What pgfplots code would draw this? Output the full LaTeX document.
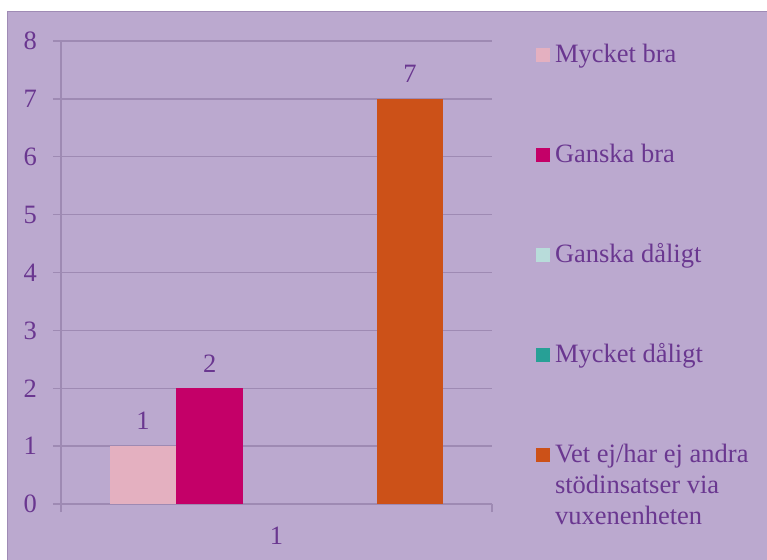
\documentclass[border=0pt]{standalone}
\usepackage{pgfplots}
\pgfplotsset{compat=1.18}
\usepackage{fontspec}
\setmainfont{Liberation Serif}
\definecolor{bg}{HTML}{BBA9CF}
\definecolor{bord}{HTML}{9F8BB5}
\definecolor{gridc}{HTML}{9E8AB3}
\definecolor{txt}{HTML}{6A3790}
\definecolor{c1}{HTML}{E4B0C0}
\definecolor{c2}{HTML}{C40068}
\definecolor{c3}{HTML}{B8DCDA}
\definecolor{c4}{HTML}{27A096}
\definecolor{c5}{HTML}{CC5118}
\begin{document}
\fontsize{26.5bp}{31bp}\selectfont
\begin{tikzpicture}
\useasboundingbox (0,0) rectangle (767bp,560bp);
\fill[white] (0,0) rectangle (767bp,560bp);
\fill[bg] (7bp,0) rectangle (767bp,549bp);
\draw[bord, line width=1bp] (7.5bp,0) -- (7.5bp,548.5bp) -- (767bp,548.5bp);
\begin{axis}[
  at={(61bp,56bp)}, anchor=south west,
  scale only axis, width=431bp, height=463bp,
  xmin=-3.231, xmax=3.231, ymin=0, ymax=8,
  ybar, bar width=1,
  /pgf/number format/assume math mode=true,
  axis x line*=bottom, axis y line*=left,
  axis line style={gridc, line width=1.3bp, -},
  tick style={gridc, line width=1.3bp},
  major tick length=8bp, tick align=outside,
  ymajorgrids, grid style={gridc, line width=1.3bp},
  ytick={0,1,2,3,4,5,6,7,8},
  xtick={-3.231,3.231}, xticklabels={,},
  extra x ticks={0}, extra x tick labels={1},
  extra x tick style={major tick length=0pt},
  ticklabel style={font=\fontsize{26.5bp}{31bp}\selectfont, text=txt, inner sep=0pt},
  yticklabel style={anchor=east, xshift=-16bp},
  xticklabel style={anchor=north, yshift=-23bp},
  every node near coord/.append style={font=\fontsize{26.5bp}{31bp}\selectfont, text=txt, inner sep=0pt, anchor=south, yshift=16bp},
  legend cell align=left,
  legend style={at={(1.1021,0.9978)}, anchor=north west, draw=none, fill=none,
    inner sep=0pt, outer sep=0pt, row sep=74bp, column sep=5bp,
    font=\fontsize{26.5bp}{31bp}\selectfont, text=txt,
    nodes={inner sep=0pt, text height=20bp, text depth=6bp, anchor=base west},
    cells={anchor=base west}},
  sq/.style={legend image code/.code={\fill[##1, draw=none] (0bp,0bp) rectangle (14bp,14bp);}},
]
\addplot[fill=c1, draw=none, bar shift=0pt, sq, nodes near coords] coordinates {(-2,1)};
\addlegendentry{Mycket bra}
\addplot[fill=c2, draw=none, bar shift=0pt, sq, nodes near coords] coordinates {(-1,2)};
\addlegendentry{Ganska bra}
\addplot[fill=c3, draw=none, bar shift=0pt, sq] coordinates {(0,0)};
\addlegendentry{Ganska dåligt}
\addplot[fill=c4, draw=none, bar shift=0pt, sq] coordinates {(1,0)};
\addlegendentry{Mycket dåligt}
\addplot[fill=c5, draw=none, bar shift=0pt, sq, nodes near coords] coordinates {(2,7)};
\addlegendentry{\vtop{\hbox{Vet ej/har ej andra}\hbox{stödinsatser via}\hbox{vuxenenheten}}}
\end{axis}
\end{tikzpicture}
\end{document}
